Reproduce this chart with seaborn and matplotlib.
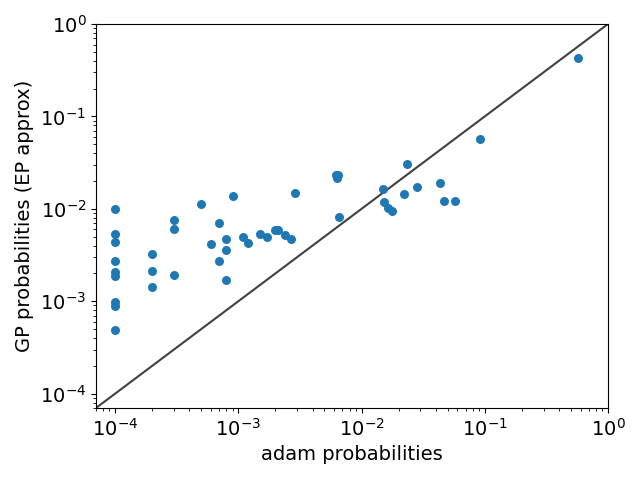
import matplotlib
matplotlib.use("Agg")
import matplotlib.pyplot as plt
import numpy as np
import pandas as pd
import seaborn as sns

# values
adam_probs = [
    1e-4, 1e-4, 1e-4, 1e-4, 1e-4, 1e-4, 1e-4, 1e-4, 1e-4,
    2e-4, 2e-4, 2e-4,
    3e-4, 3e-4, 3e-4,
    5e-4, 6e-4, 7e-4, 7e-4, 8e-4, 8e-4, 8e-4, 9e-4,
    1.1e-3, 1.2e-3, 1.5e-3, 1.7e-3, 2.0e-3, 2.1e-3, 2.4e-3, 2.7e-3, 2.9e-3,
    6.2e-3, 6.5e-3, 6.3e-3, 6.6e-3,
    1.5e-2, 1.53e-2, 1.65e-2, 1.76e-2, 2.21e-2, 2.34e-2, 2.84e-2,
    4.36e-2, 4.67e-2, 5.77e-2, 9.2e-2, 0.574,
]
gp_probs = [
    9.9e-3, 5.4e-3, 4.4e-3, 2.74e-3, 2.07e-3, 1.9e-3, 9.7e-4, 8.9e-4, 4.9e-4,
    3.24e-3, 2.12e-3, 1.44e-3,
    7.5e-3, 6.1e-3, 1.92e-3,
    1.13e-2, 4.15e-3, 7.06e-3, 2.74e-3, 4.7e-3, 3.58e-3, 1.69e-3, 1.37e-2,
    4.94e-3, 4.26e-3, 5.33e-3, 4.94e-3, 5.93e-3, 5.93e-3, 5.24e-3, 4.7e-3, 1.48e-2,
    2.3e-2, 2.3e-2, 2.15e-2, 8.1e-3,
    1.63e-2, 1.2e-2, 1.02e-2, 9.4e-3, 1.45e-2, 3.06e-2, 1.72e-2,
    1.9e-2, 1.23e-2, 1.21e-2, 5.67e-2, 0.426,
]
lims = [7e-5, 1.0]

df = pd.DataFrame({'adam': adam_probs, 'gp': gp_probs})

fig, ax = plt.subplots(figsize=(6.4, 4.8), dpi=100)
fig.subplots_adjust(left=0.15, right=0.95, top=0.95, bottom=0.15)

sns.scatterplot(data=df, x='adam', y='gp', ax=ax, s=42, linewidth=0,
                color='#1f77b4', zorder=3)
ax.plot(lims, lims, color='k', alpha=0.75, zorder=2)

ax.set_xscale('log')
ax.set_yscale('log')
ax.set_xlim(lims)
ax.set_ylim(lims)
ax.set_xlabel('adam probabilities', fontsize=14)
ax.set_ylabel('GP probabilities (EP approx)', fontsize=14)
ax.tick_params(axis='both', which='major', labelsize=14)

fig.savefig('out.png', dpi=100)
